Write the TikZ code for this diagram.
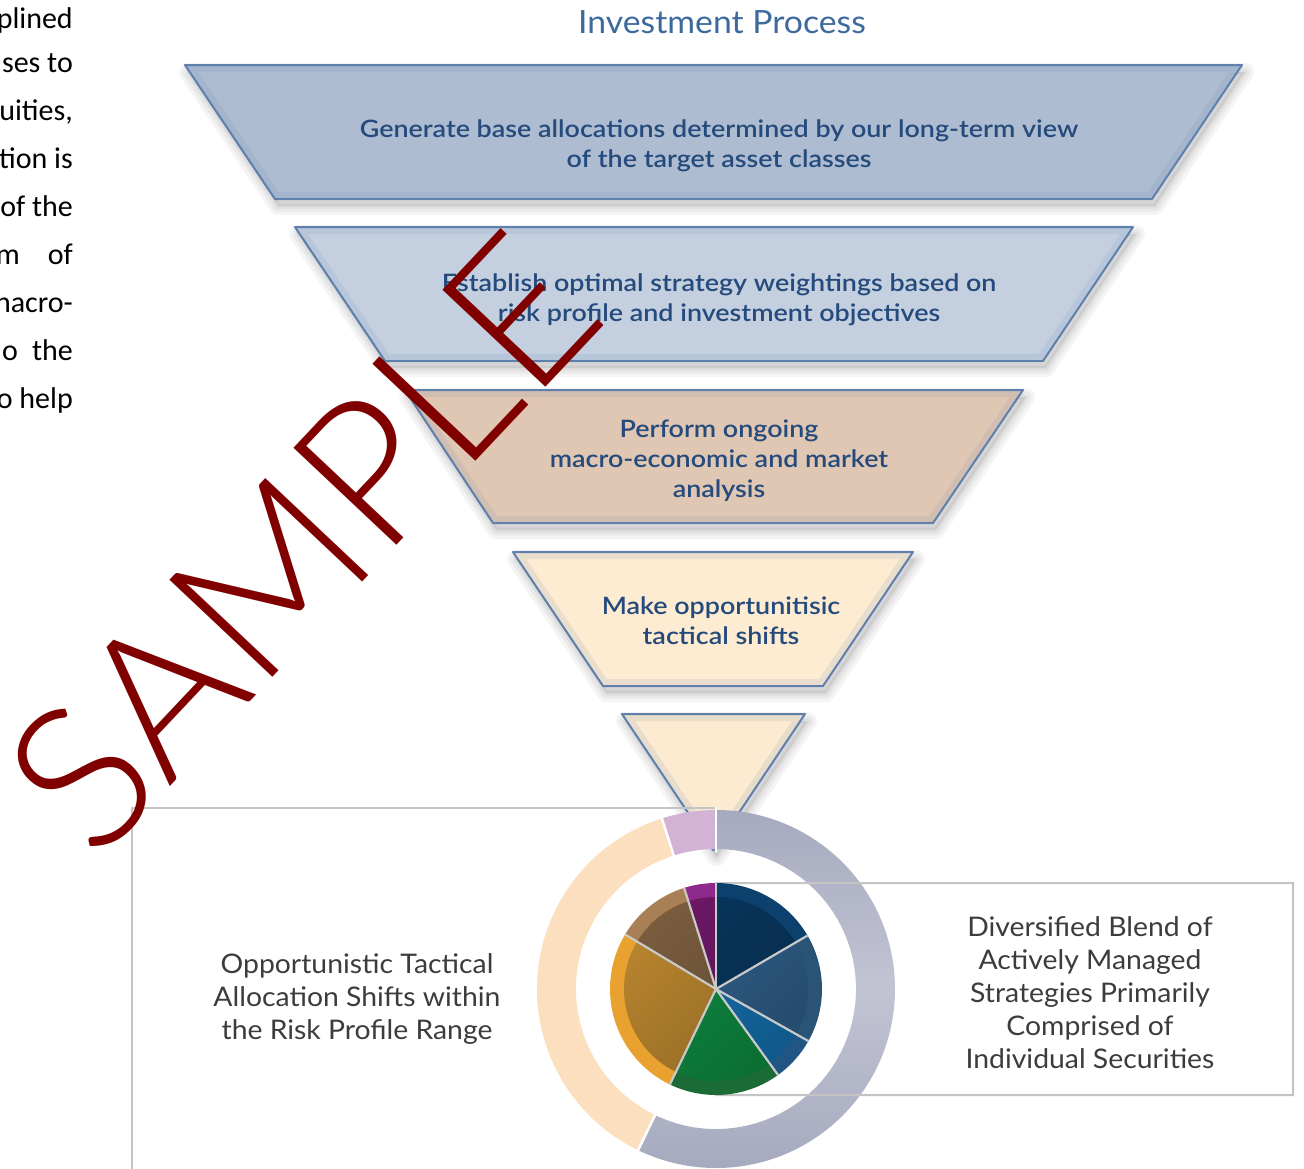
\documentclass[tikz,border=0pt]{standalone}
\usepackage{fontspec}
\setmainfont{Lato}
\newfontfamily\calfont{Carlito}
\newfontfamily\grayfont{Lato}[FakeStretch=1.05]
\newfontfamily\titlefont{Lato}[FakeStretch=1.055]
\IfFontExistsTF{Lato Light}{\newfontfamily\wmfont{Lato Light}}{\newfontfamily\wmfont{Lato}}
\IfFontExistsTF{Lato Semibold}{\newfontfamily\boxfont{Lato Semibold}[FakeStretch=1.12]}{\newfontfamily\boxfont{Lato}[FakeStretch=1.12,UprightFont={* Bold}]}
\usetikzlibrary{calc,fadings}
\definecolor{funnelline}{HTML}{5F80AC}
\definecolor{fillA}{HTML}{ADBCD1}
\definecolor{fillB}{HTML}{C4D0E0}
\definecolor{fillC}{HTML}{E0C7B4}
\definecolor{fillD}{HTML}{FDEBD2}
\definecolor{fillE}{HTML}{FCEBD0}
\definecolor{boxtext}{HTML}{254A7C}
\definecolor{titletext}{HTML}{3D6A9E}
\definecolor{graytext}{HTML}{3C3C3C}
\definecolor{boxgray}{HTML}{C4C4C4}
\definecolor{wmred}{HTML}{800000}
\definecolor{ringgreyd}{HTML}{A6AABF}
\definecolor{ringgreyl}{HTML}{C2C4D3}
\definecolor{ringpeach}{HTML}{FCDFBF}
\definecolor{ringlilac}{HTML}{D3B3D5}
\definecolor{navyrim}{HTML}{0C406D}
\definecolor{navycore}{HTML}{08375E}
\definecolor{steelrim}{HTML}{2A5476}
\definecolor{steelcore}{HTML}{30608B}
\definecolor{medrim}{HTML}{215682}
\definecolor{medcore}{HTML}{1572B0}
\definecolor{greenrim}{HTML}{1A6B35}
\definecolor{greencore}{HTML}{0F8C42}
\definecolor{orangerim}{HTML}{E9A230}
\definecolor{orangecore}{HTML}{B8852F}
\definecolor{brownrim}{HTML}{A97F55}
\definecolor{browncore}{HTML}{7A5D3F}
\definecolor{purplerim}{HTML}{8E2A8C}
\definecolor{purplecore}{HTML}{6E1865}
\definecolor{sepgray}{HTML}{C9C9C9}

% funnel piece: x top-left, x top-right, y top, x bottom-left, x bottom-right, y bottom, fill
\newcommand\funnelpiece[7]{%
  \begin{scope}[shift={(3,7)}]
    \foreach \w in {18,11,5}{\draw[line width=\w pt, line join=round, black, opacity=0.045] (#1,#3) -- (#2,#3) -- (#5,#6) -- (#4,#6) -- cycle;}
    \fill[black, opacity=0.08] (#1,#3) -- (#2,#3) -- (#5,#6) -- (#4,#6) -- cycle;
  \end{scope}
  \fill[#7] (#1,#3) -- (#2,#3) -- (#5,#6) -- (#4,#6) -- cycle;
  \begin{scope}
    \clip (#1,#3) -- (#2,#3) -- (#5,#6) -- (#4,#6) -- cycle;
    \draw[line width=14pt, funnelline, opacity=0.12] (#1,#3) -- (#2,#3) -- (#5,#6) -- (#4,#6) -- cycle;
  \end{scope}
  \draw[funnelline, line width=2pt, line join=round] (#1,#3) -- (#2,#3) -- (#5,#6) -- (#4,#6) -- cycle;
}
\newcommand\sector[4]{\path[#4] (C) -- ($(C)+(#1:#3)$) arc[start angle=#1, end angle=#2, radius=#3] -- cycle;}
\newcommand\annulus[3]{\path[#3] ($(C)+(#1:179)$) arc[start angle=#1, end angle=#2, radius=179] -- ($(C)+(#2:140)$) arc[start angle=#2, end angle=#1, radius=140] -- cycle;}

\begin{document}
\begin{tikzpicture}[x=1pt,y=-1pt,
  boxtxt/.style={text=boxtext, align=center, font=\boxfont\fontsize{24}{30}\selectfont, inner sep=0},
  graytxt/.style={text=graytext, align=center, font=\grayfont\fontsize{27}{33}\selectfont, inner sep=0},
  paratxt/.style={anchor=base east, font=\calfont\fontsize{30}{36}\selectfont, inner sep=0},
  boxline/.style={draw=boxgray, line width=2pt}]
\useasboundingbox (0,0) rectangle (1304,1168);
\fill[white] (0,0) rectangle (1304,1168);

% clipped paragraph at the left edge
\node[paratxt] (p0) at (73,28)  {plined};
\node[paratxt] (p1) at (73,72)  {ses to};
\node[paratxt] (p2) at (73,120) {uities,};
\node[paratxt] (p3) at (73,168) {tion is};
\node[paratxt] (p4) at (73,216) {of the};
\node[paratxt] (p5) at (73,264) {m\hspace{28pt}of};
\node[paratxt] (p6) at (73,312) {nacro-};
\node[paratxt] (p7) at (73,360) {o\hspace{14pt}the};
\node[paratxt] (p8) at (73,408) {o help};

% title
\node[text=titletext, font=\titlefont\fontsize{32}{36}\selectfont, inner sep=0] (title) at (722,22) {Investment Process};

% funnel
\funnelpiece{185}{1242}{65}{275}{1152}{199}{fillA}
\funnelpiece{295}{1133}{227}{385}{1043}{361}{fillB}
\funnelpiece{405}{1023}{390}{493}{933}{523}{fillC}
\funnelpiece{513}{913}{552}{603}{823}{686}{fillD}
\funnelpiece{622}{805}{714}{713}{714}{850}{fillE}

\node[boxtxt] (t1) at (719,146) {Generate base allocations determined by our long-term view\\of the target asset classes};
\node[boxtxt] (t2) at (719,300) {Establish optimal strategy weightings based on\\risk profile and investment objectives};
\node[boxtxt] (t3) at (719,461) {Perform ongoing\\macro-economic and market\\analysis};
\node[boxtxt] (t4) at (721,621) {Make opportunitisic\\tactical shifts};

% left box
\draw[boxline] (132,1172) -- (132,808) -- (715,808);

% ring
\coordinate (C) at (716,989);
\annulus{-90}{115.8}{top color=ringgreyd, bottom color=ringgreyd, middle color=ringgreyl}
\annulus{-107.6}{-90}{fill=ringlilac}
\annulus{115.8}{252.4}{fill=ringpeach}
\foreach \a in {-90,-107.6,115.8}
  \draw[white, line width=2.5pt] ($(C)+(\a:137)$) -- ($(C)+(\a:182)$);

% right box
\begin{scope}[blend group=multiply]
  \draw[boxline] (716,883) rectangle (1293,1095);
\end{scope}

% pie
\sector{-90}{-30.3}{106}{fill=navyrim}
\sector{-30.3}{29.4}{106}{fill=steelrim}
\sector{29.4}{54.2}{106}{fill=medrim}
\sector{54.2}{115.8}{106}{fill=greenrim}
\sector{115.8}{211}{106}{fill=orangerim}
\sector{211}{252.5}{106}{fill=brownrim}
\sector{252.5}{270}{106}{fill=purplerim}
\sector{-90}{-30.3}{92}{fill=navycore}
\sector{-30.3}{29.4}{92}{fill=steelcore}
\sector{29.4}{54.2}{92}{fill=medcore}
\sector{54.2}{115.8}{92}{fill=greencore}
\sector{115.8}{211}{92}{fill=orangecore}
\sector{211}{252.5}{92}{fill=browncore}
\sector{252.5}{270}{92}{fill=purplecore}
\fill[black, opacity=0.22, path fading=north, fading angle=45] (C) circle[radius=92];
\foreach \a in {-90,-30.3,29.4,54.2,115.8,211,252.5}
  \draw[sepgray, line width=2.2pt] (C) -- ($(C)+(\a:106)$);

% bottom texts
\node[graytxt] (lt) at (357,999) {Opportunistic Tactical\\Allocation Shifts within\\the Risk Profile Range};
\node[graytxt] (rt) at (1090,993) {Diversified Blend of\\Actively Managed\\Strategies Primarily\\Comprised of\\Individual Securities};

% watermark
\node[rotate=46.7, text=wmred, font=\wmfont\fontsize{200}{200}\selectfont, inner sep=0] (wm) at (302,543) {SAMPLE};
\end{tikzpicture}
\end{document}
